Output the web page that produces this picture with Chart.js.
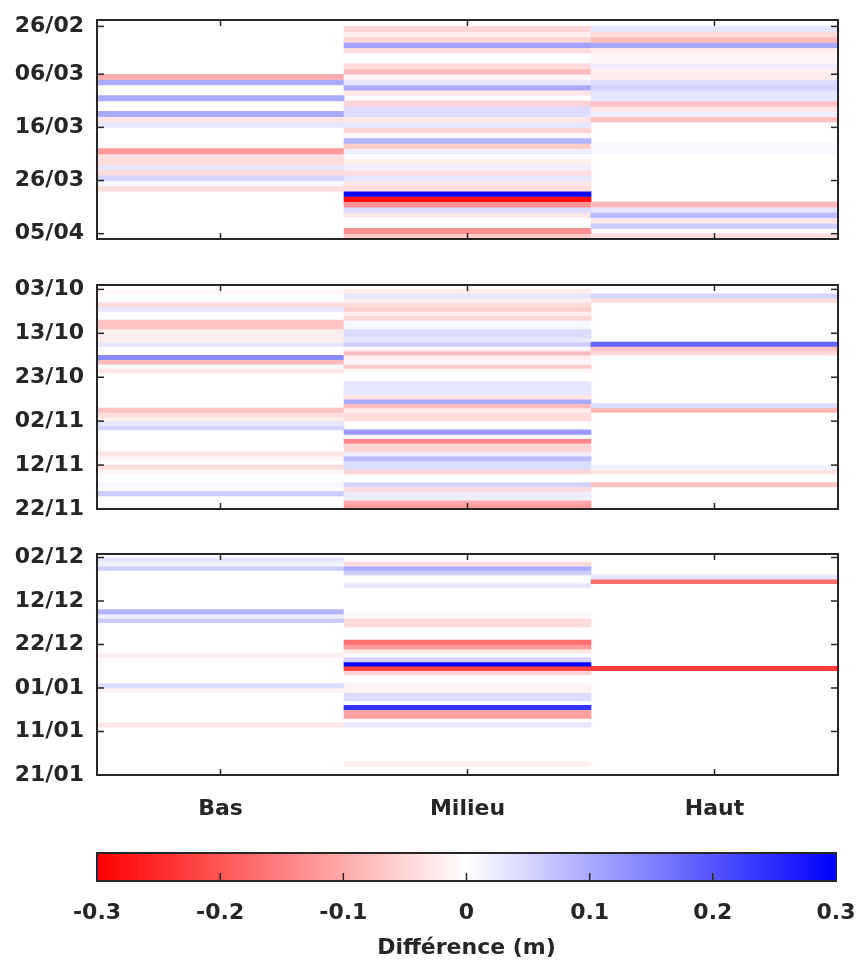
<!DOCTYPE html>
<html><head><meta charset="utf-8">
<script src="https://cdn.jsdelivr.net/npm/chart.js@4.4.1/dist/chart.umd.min.js"></script>
<style>
html,body{margin:0;padding:0;background:#fff;}
body{width:856px;height:965px;position:relative;overflow:hidden;}
canvas{position:absolute;left:0;}
</style></head><body>
<canvas id="p1" width="856" height="260" style="top:0px"></canvas>
<canvas id="p2" width="856" height="260" style="top:265px"></canvas>
<canvas id="p3" width="856" height="301" style="top:534px"></canvas>
<canvas id="cb" width="856" height="125" style="top:840px"></canvas>
<script>
// ---------------- data ----------------
const columns = ['Bas', 'Milieu', 'Haut'];

// Panel 1 : one value per day starting 26/02/2020
const p1Start = '2020-02-26';
const p1TickLabels = ['26/02', '06/03', '16/03', '26/03', '05/04'];
const p1Bas = [null, null, null, null, null, null, null, null, null, -0.1,
  0.1, null, null, 0.1, null, null, 0.1, -0.03, 0.03, null,
  null, null, null, -0.12, -0.04, -0.04, 0.03, -0.04, 0.05, 0.01,
  -0.04, null, null, null, null, null, null, null, null, null];
const p1Milieu = [-0.05, -0.02, -0.05, 0.11, -0.04, null, null, -0.04, -0.08, -0.01,
  0.03, 0.1, -0.03, null, -0.05, 0.04, 0.04, -0.03, 0.03, -0.05,
  -0.01, 0.09, -0.06, 0.02, null, -0.02, 0.02, -0.04, 0.03, -0.03,
  -0.04, 0.29, -0.28, -0.13, 0.04, -0.03, null, null, -0.13, -0.06];
const p1Haut = [0.03, -0.04, -0.08, 0.1, -0.02, -0.01, -0.01, 0.02, -0.02, -0.02,
  0.04, 0.05, 0.03, 0.03, -0.07, -0.03, 0.02, -0.07, null, null,
  null, null, 0.01, 0.01, null, null, null, null, null, null,
  null, null, null, -0.08, 0.03, 0.08, -0.03, 0.06, null, -0.04];

// Panel 2 : one value per day starting 03/10/2019
const p2Start = '2019-10-03';
const p2TickLabels = ['03/10', '13/10', '23/10', '02/11', '12/11', '22/11'];
const p2Bas = [-0.01, null, null, -0.04, 0.03, null, null, -0.07, -0.07, -0.02,
  -0.02, -0.02, 0.03, null, null, 0.14, -0.08, 0.01, -0.03, null,
  null, null, null, null, null, null, null, -0.07, -0.04, -0.02,
  0.03, 0.05, null, null, null, null, null, -0.03, -0.01, null,
  -0.04, -0.01, null, null, 0.01, null, 0.06, null, null, null];
const p2Milieu = [-0.02, 0.03, -0.02, -0.04, -0.06, -0.02, -0.05, 0.01, 0.01, 0.04,
  0.04, 0.03, 0.06, -0.01, -0.08, -0.02, 0.01, -0.06, -0.01, null,
  null, 0.03, 0.03, 0.03, -0.03, 0.1, -0.08, -0.02, -0.04, -0.04,
  null, null, 0.12, -0.01, -0.14, -0.05, -0.05, 0.02, 0.08, 0.04,
  0.04, -0.05, null, null, 0.05, -0.04, 0.02, 0.02, -0.1, -0.12];
const p2Haut = [null, 0.05, -0.04, null, null, null, null, null, null, null,
  null, null, 0.18, -0.07, -0.04, null, null, null, null, null,
  null, null, null, null, null, null, 0.04, -0.09, null, null,
  null, null, null, null, null, null, null, null, null, null,
  0.015, -0.03, null, null, -0.07, null, null, null, null, null];

// Panel 3 : one value per day starting 02/12/2019
const p3Start = '2019-12-02';
const p3TickLabels = ['02/12', '12/12', '22/12', '01/01', '11/01', '21/01'];
const p3Bas = [0.03, 0.015, 0.06, null, null, null, null, null, null, null,
  null, null, 0.09, 0.02, 0.06, null, null, null, null, null,
  null, null, -0.02, null, null, null, null, null, null, 0.04,
  -0.015, null, null, null, null, null, null, null, -0.03, null,
  null, null, null, null, null, null, null, null, null, null];
const p3Milieu = [null, -0.04, 0.1, 0.06, null, null, 0.03, null, null, null,
  null, null, 0.005, -0.01, -0.04, -0.04, null, null, null, -0.17,
  -0.12, -0.03, null, 0.05, 0.29, -0.22, -0.05, null, null, -0.015,
  -0.015, 0.04, 0.04, null, 0.24, -0.11, -0.11, null, 0.03, null,
  null, null, null, null, null, null, null, -0.02, null, null];
const p3Haut = [null, null, null, null, 0.03, -0.17, null, null, null, null,
  null, null, null, null, null, null, null, null, null, null,
  null, null, null, null, null, -0.23, null, null, null, null,
  null, null, null, null, null, null, null, null, null, null,
  null, null, null, null, null, null, null, null, null, null];

// Colour bar
const colorTicks = [-0.3, -0.2, -0.1, 0, 0.1, 0.2, 0.3];
const colorLabel = 'Différence (m)';

// ---------------- helpers ----------------
const cMin = colorTicks[0], cMax = colorTicks[colorTicks.length - 1];
function valueColor(v) {
  const t = Math.max(-1, Math.min(1, v / cMax));
  let r, g, b;
  if (t < 0) { r = 255; g = b = Math.round(255 * (1 + t)); }
  else { r = g = Math.round(255 * (1 - t)); b = 255; }
  return 'rgb(' + r + ',' + g + ',' + b + ')';
}
function dayOffset(start, label) {
  const s = new Date(start + 'T00:00:00Z');
  const [dd, mm] = label.split('/').map(Number);
  let y = s.getUTCFullYear();
  let t = Date.UTC(y, mm - 1, dd);
  if (t < s.getTime()) t = Date.UTC(y + 1, mm - 1, dd);
  return Math.round((t - s.getTime()) / 86400000);
}

const INK = '#262626';
Chart.defaults.font.family = "'DejaVu Sans', sans-serif";
Chart.defaults.font.size = 22;
Chart.defaults.font.weight = 'bold';
Chart.defaults.color = INK;

function line(ctx, x1, y1, x2, y2) { ctx.beginPath(); ctx.moveTo(x1, y1); ctx.lineTo(x2, y2); ctx.stroke(); }

const framePlugin = {
  id: 'frame',
  afterDatasetsDraw(chart, args, opts) {
    const ctx = chart.ctx, a = chart.chartArea;
    ctx.save();
    ctx.strokeStyle = INK;
    ctx.lineWidth = 1.5;
    if (opts.yTicks) {
      const ys = chart.scales.y;
      ys.ticks.forEach(t => {
        const y = ys.getPixelForValue(t.value);
        line(ctx, a.left, y, a.left + 7, y);
        line(ctx, a.right, y, a.right - 7, y);
      });
    }
    if (opts.xTicks) {
      const xs = chart.scales.x;
      xs.ticks.forEach((t, i) => {
        const x = xs.getPixelForTick(i);
        line(ctx, x, a.top, x, a.top + 6);
        line(ctx, x, a.bottom, x, a.bottom - 6);
      });
    }
    if (opts.cbTicks) {
      const xs = chart.scales.x;
      xs.ticks.forEach(t => {
        const x = xs.getPixelForValue(t.value);
        line(ctx, x, a.bottom, x, a.bottom - 8);
      });
    }
    ctx.lineWidth = 2;
    ctx.strokeRect(a.left, a.top, a.right - a.left, a.bottom - a.top);
    ctx.restore();
  }
};

function noPad(s) { s.paddingTop = 0; s.paddingBottom = 0; s.paddingLeft = 0; s.paddingRight = 0; }

function buildPanel(id, start, tickLabels, bas, mil, haut, yMin, yMax, pad, showX) {
  const offsets = tickLabels.map(l => dayOffset(start, l));
  const datasets = [];
  for (let d = 0; d < bas.length; d++) {
    const vals = [bas[d], mil[d], haut[d]];
    datasets.push({
      data: vals.map(v => v == null ? null : [d, d + 1]),
      backgroundColor: vals.map(v => v == null ? 'rgba(0,0,0,0)' : valueColor(v)),
      borderWidth: 0,
      barPercentage: 1,
      categoryPercentage: 1,
      grouped: false
    });
  }
  return new Chart(document.getElementById(id), {
    type: 'bar',
    data: { labels: columns, datasets },
    options: {
      responsive: false, animation: false, devicePixelRatio: 1, events: [],
      layout: { padding: pad },
      plugins: { legend: { display: false }, tooltip: { enabled: false },
        frame: { yTicks: true, xTicks: true } },
      scales: {
        x: {
          type: 'category', offset: true, display: showX,
          grid: { display: false, drawTicks: false }, border: { display: false },
          ticks: { padding: 21, autoSkip: false },
          afterFit(s) { noPad(s); if (showX) s.height = 60; }
        },
        y: {
          type: 'linear', reverse: true, min: yMin, max: yMax,
          grid: { display: false, drawTicks: false }, border: { display: false },
          afterBuildTicks(s) { s.ticks = offsets.map(v => ({ value: v })); },
          ticks: { padding: 13, autoSkip: false, callback: (v, i) => tickLabels[i] },
          afterFit(s) { noPad(s); s.width = 97; }
        }
      }
    },
    plugins: [framePlugin]
  });
}

buildPanel('p1', p1Start, p1TickLabels, p1Bas, p1Milieu, p1Haut, -1.2, 40,
  { top: 20, bottom: 21, left: 0, right: 18 }, false);
buildPanel('p2', p2Start, p2TickLabels, p2Bas, p2Milieu, p2Haut, -1, 50,
  { top: 20, bottom: 16, left: 0, right: 18 }, false);
buildPanel('p3', p3Start, p3TickLabels, p3Bas, p3Milieu, p3Haut, -0.8, 50,
  { top: 20, bottom: 0, left: 0, right: 18 }, true);

// Colour bar
new Chart(document.getElementById('cb'), {
  type: 'bar',
  data: {
    labels: ['cb'],
    datasets: [{
      data: [[cMin, cMax]],
      backgroundColor(c) {
        const ch = c.chart;
        if (!ch.chartArea) return '#fff';
        const xs = ch.scales.x;
        const g = ch.ctx.createLinearGradient(xs.getPixelForValue(cMin), 0, xs.getPixelForValue(cMax), 0);
        g.addColorStop(0, valueColor(cMin));
        g.addColorStop(0.5, valueColor(0));
        g.addColorStop(1, valueColor(cMax));
        return g;
      },
      borderWidth: 0, barPercentage: 1, categoryPercentage: 1
    }]
  },
  options: {
    indexAxis: 'y', responsive: false, animation: false, devicePixelRatio: 1, events: [],
    layout: { padding: { top: 13, bottom: 0, left: 97, right: 20 } },
    plugins: { legend: { display: false }, tooltip: { enabled: false }, frame: { cbTicks: true } },
    scales: {
      x: {
        type: 'linear', min: cMin, max: cMax,
        grid: { display: false, drawTicks: false }, border: { display: false },
        afterBuildTicks(s) { s.ticks = colorTicks.map(v => ({ value: v })); },
        ticks: { padding: 19, autoSkip: false, callback: v => String(Math.round(v * 10) / 10) },
        title: { display: true, text: colorLabel, padding: { top: 0, bottom: 4 } },
        afterFit(s) { noPad(s); s.height = 84; }
      },
      y: { type: 'category', display: false, afterFit: noPad }
    }
  },
  plugins: [framePlugin]
});
</script>
</body></html>
